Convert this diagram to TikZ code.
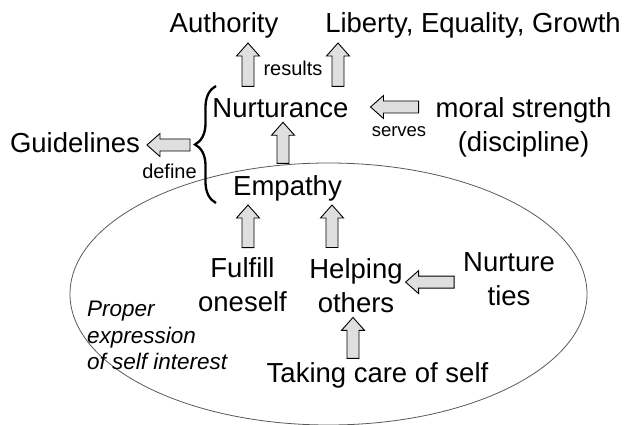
\documentclass[tikz,border=0pt]{standalone}
\usepackage{fontspec}
\setmainfont{Liberation Sans}
\usetikzlibrary{calc,decorations.pathreplacing}

\tikzset{
  lbl/.style={font=\fontsize{27.5}{34}\selectfont, inner sep=0pt, outer sep=0pt},
  note/.style={font=\fontsize{20}{24}\selectfont, inner sep=0pt, outer sep=0pt},
  blockarrow/.style={draw=black, fill=gray!25, line width=0.9pt, line join=miter},
  selfzone/.style={draw=black!65, line width=0.8pt},
  bracestyle/.style={decorate, decoration={brace, amplitude=21pt}, line width=2.3pt}
}

% hollow block arrows: x (or y) taken from the tail
\newcommand{\uparr}[2]{%
  \draw[blockarrow] let \p1=(#1), \p2=(#2) in
    (\x1-6pt,\y1) -- (\x1-6pt,\y2-13pt) -- (\x1-11.5pt,\y2-13pt) -- (\x1,\y2)
    -- (\x1+11.5pt,\y2-13pt) -- (\x1+6pt,\y2-13pt) -- (\x1+6pt,\y1) -- cycle;}
\newcommand{\leftarr}[2]{%
  \draw[blockarrow] let \p1=(#1), \p2=(#2) in
    (\x1,\y1+6pt) -- (\x2+13pt,\y1+6pt) -- (\x2+13pt,\y1+11.5pt) -- (\x2,\y1)
    -- (\x2+13pt,\y1-11.5pt) -- (\x2+13pt,\y1-6pt) -- (\x1,\y1-6pt) -- cycle;}

\begin{document}
\begin{tikzpicture}[x=1pt,y=-1pt]
    \useasboundingbox (0,0) rectangle (629,425);

    \draw[selfzone] (328.5,294) ellipse [x radius=258.5, y radius=131];% self interest

    \node[lbl, anchor=base] (auth) at (224,33) {Authority};
    \node[lbl, anchor=base] (lib) at (473,33) {Liberty, Equality, Growth};
    \node[lbl, anchor=base] (nurt) at (280.5,118) {Nurturance};
    \node[lbl, anchor=base] (emp) at (287.5,195) {Empathy};
    \node[lbl, anchor=base] (guide) at (75,153) {Guidelines};
    \node[lbl, align=center] (mor) at (523.5,127) {moral strength\\(discipline)};
    \node[lbl, align=center] (ful) at (242.5,285) {Fulfill\\oneself};
    \node[lbl, align=center] (help) at (356,285.3) {Helping\\others};
    \node[lbl, align=center] (ties) at (509,279) {Nurture\\ties};
    \node[lbl, anchor=base] (care) at (377.5,382) {Taking care of self};
    \node[font=\fontsize{22.5}{26.5}\selectfont\itshape, inner sep=0pt, align=left,
        anchor=west] (proper) at (87,335.6) {Proper\\expression\\of self interest};

    \node[note, anchor=base] (res) at (293,76) {results};
    \node[note, anchor=base] (def) at (169.5,178) {define};
    \node[note, anchor=base, font=\fontsize{18.5}{22}\selectfont] (serv) at (399,136) {serves};

    \draw[bracestyle] (216,203) -- (216,86);% brace round the two values
    \coordinate (bracetip) at (195,145);

    \uparr{[xshift=-32.5pt,yshift=12.7pt]nurt.north}{[yshift=-4.3pt]auth.south}
    \uparr{[xshift=57.5pt,yshift=12.7pt]nurt.north}{[yshift=-4.3pt]lib.south}
    \uparr{[xshift=-4.5pt,yshift=11.7pt]emp.north}{[yshift=-4pt]nurt.south}
    \uparr{[xshift=5.5pt,yshift=10.3pt]ful.north}{[yshift=-4.3pt]emp.south}
    \uparr{[xshift=-24pt,yshift=10.7pt]help.north}{[yshift=-4.3pt]emp.south}
    \uparr{[xshift=-24.5pt,yshift=3.7pt]care.north}{[yshift=-5pt]help.south}

    \leftarr{[xshift=-5pt]bracetip}{[xshift=7pt]guide.east}
    \leftarr{[xshift=-17pt,yshift=20pt]mor.west}{[xshift=22pt]nurt.east}
    \leftarr{[xshift=-9pt,yshift=-3.1pt]ties.west}{[xshift=3pt]help.east}
\end{tikzpicture}
\end{document}
